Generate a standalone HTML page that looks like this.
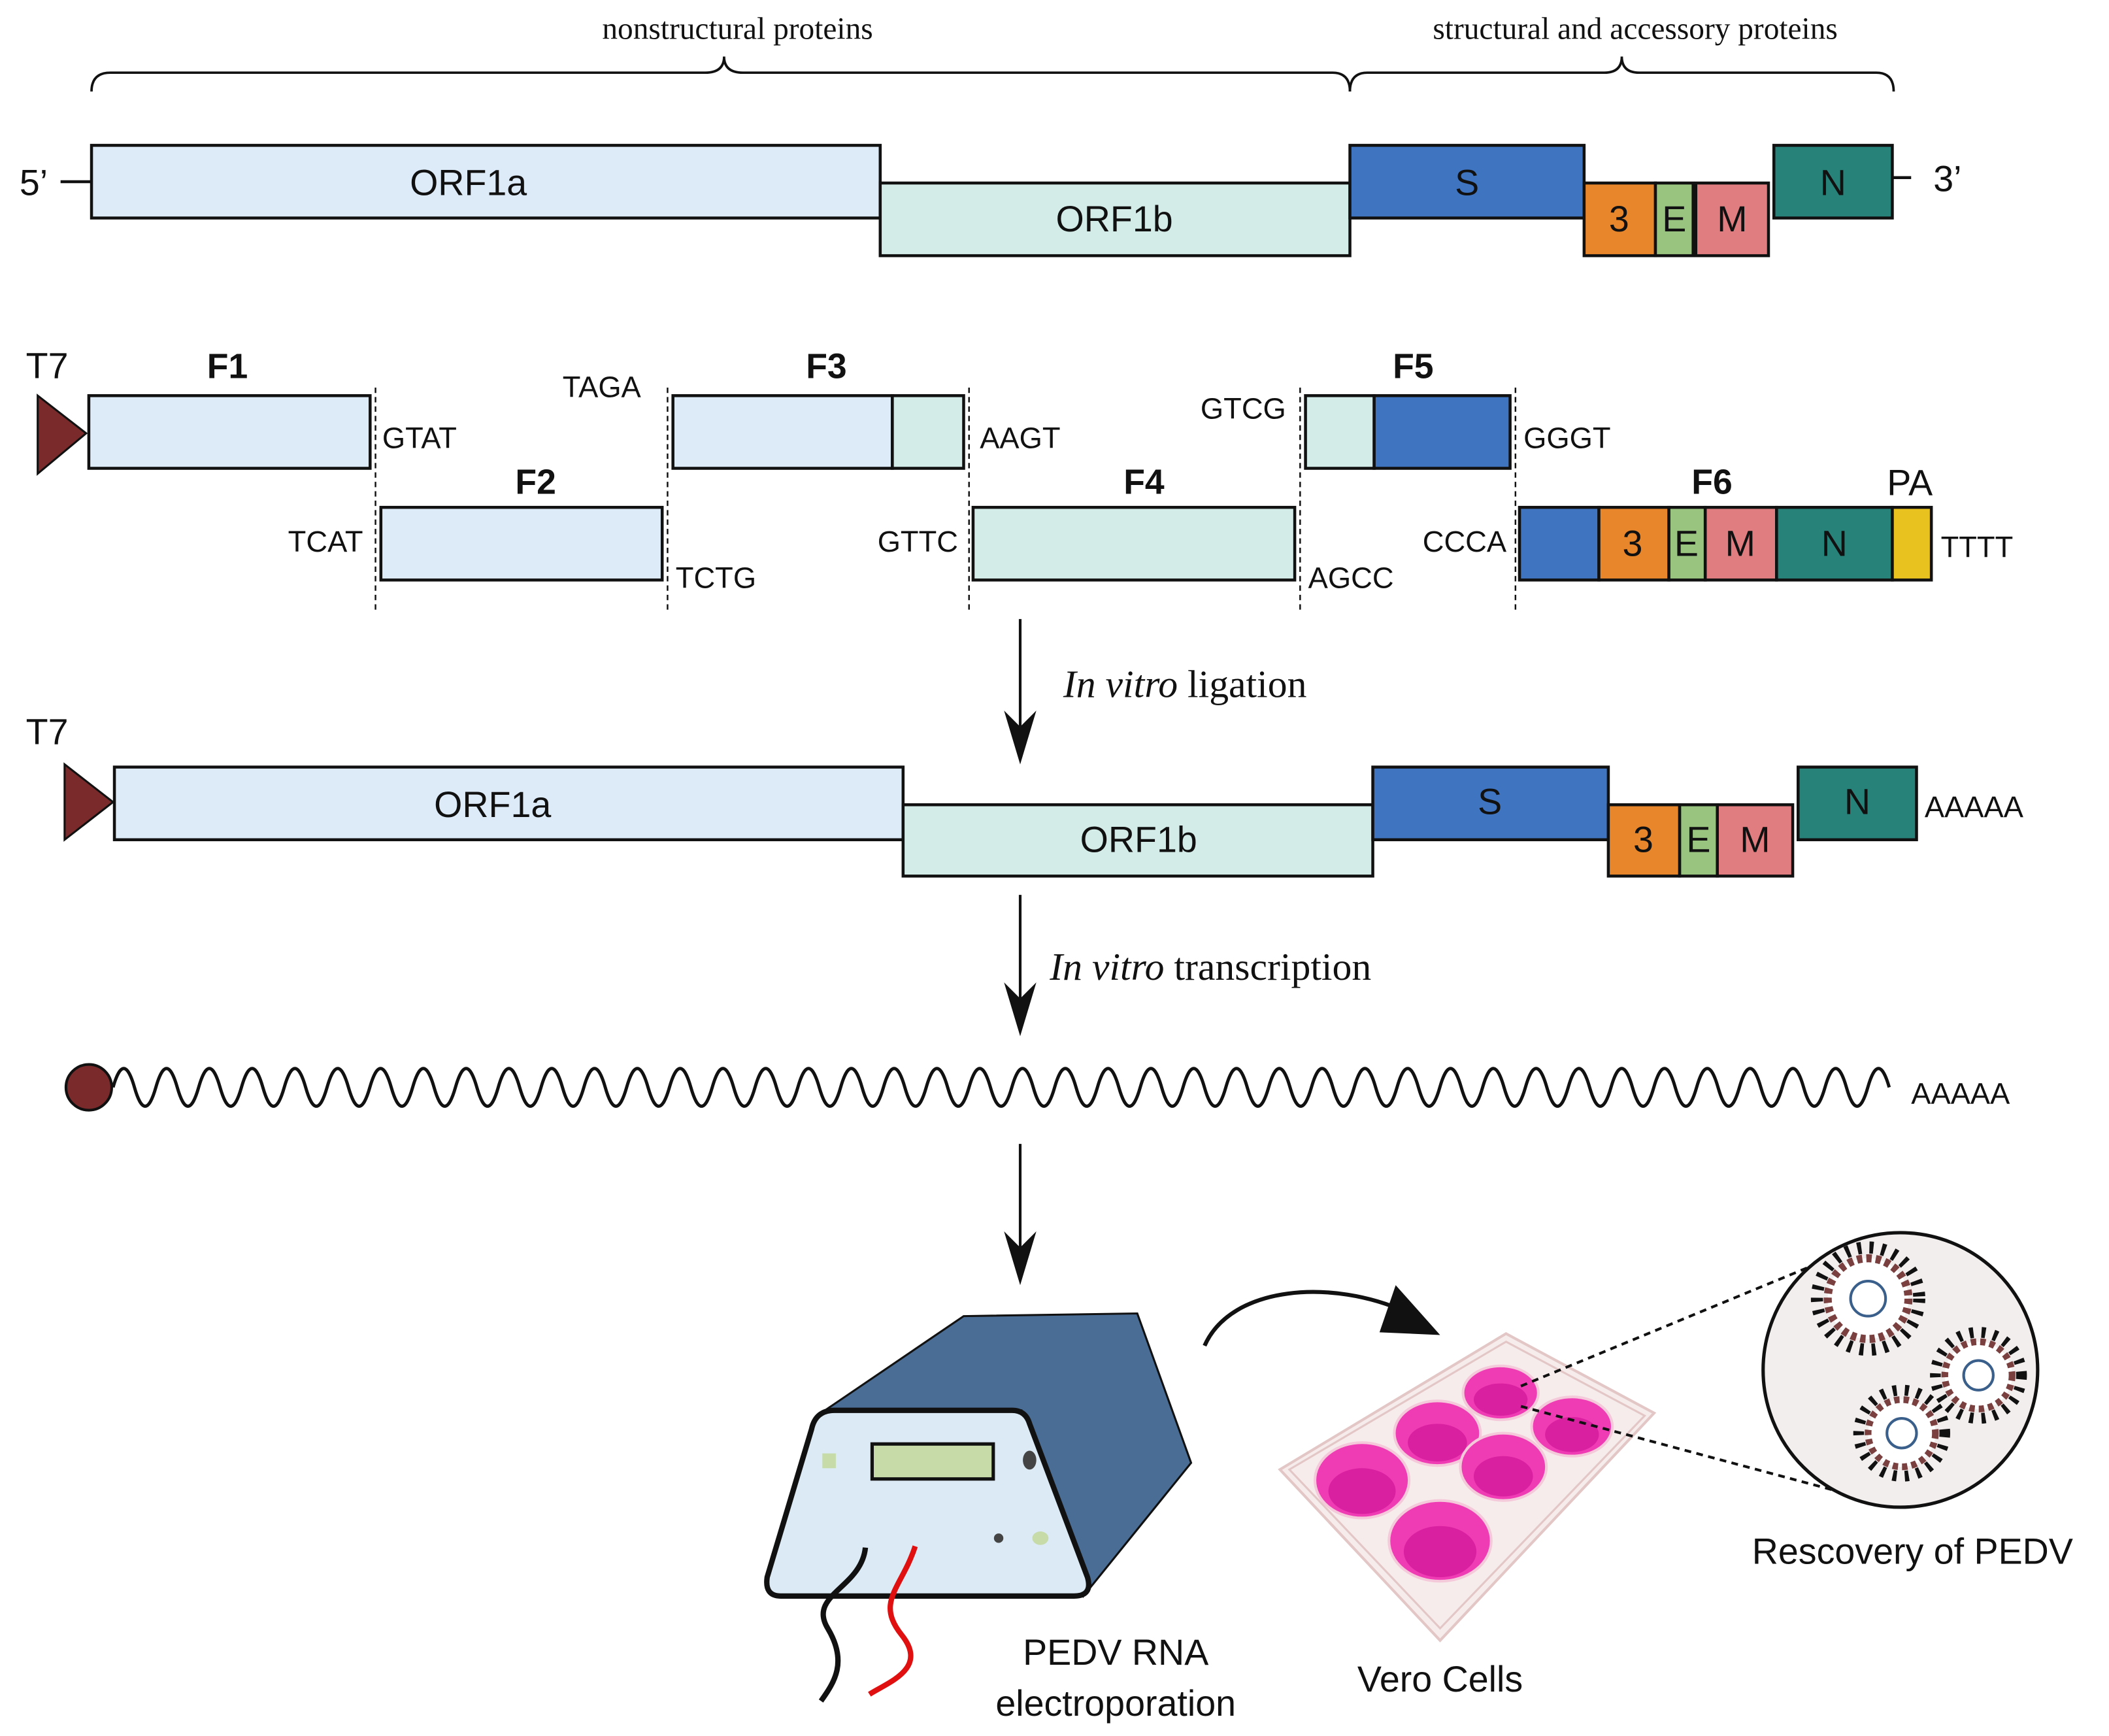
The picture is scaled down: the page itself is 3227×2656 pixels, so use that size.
<!DOCTYPE html>
<html><head><meta charset="utf-8"><style>
html,body{margin:0;padding:0;background:#fff;}
svg{display:block;}
.s{font-family:"Liberation Sans",sans-serif;}
.r{font-family:"Liberation Serif",serif;}
</style></head><body>
<svg width="3227" height="2656" viewBox="0 0 1567 1290" preserveAspectRatio="none" xmlns="http://www.w3.org/2000/svg">
<g stroke="#111" stroke-width="2.2">
<path d="M68,68 Q68,54 82,54 L524,54 Q538,54 538,42 Q538,54 552,54 L990,54 Q1003,54 1003,68" fill="none" stroke-width="1.8"/>
<path d="M1003,68 Q1003,54 1016,54 L1192,54 Q1205,54 1205,42 Q1205,54 1218,54 L1394,54 Q1407,54 1407,68" fill="none" stroke-width="1.8"/>
<line x1="45" y1="135" x2="68" y2="135"/>
<line x1="1406" y1="132" x2="1420" y2="132"/>
<rect x="68" y="108" width="586" height="54" fill="#ddeaf7"/>
<rect x="654" y="136" width="349" height="54" fill="#d3ece8"/>
<rect x="1003" y="108" width="174" height="54" fill="#3f74c0"/>
<rect x="1177" y="136" width="53" height="54" fill="#e8862b"/>
<rect x="1230" y="136" width="28" height="54" fill="#98c47f"/>
<rect x="1260" y="136" width="54" height="54" fill="#e07d80"/>
<rect x="1318" y="108" width="88" height="54" fill="#27827a"/>
<polygon points="28,294 28,352 64,322" fill="#7a2a2a" stroke="#111" stroke-width="1.5"/>
<rect x="66" y="294" width="209" height="54" fill="#ddeaf7"/>
<rect x="283" y="377" width="209" height="54" fill="#ddeaf7"/>
<rect x="500" y="294" width="163" height="54" fill="#ddeaf7"/>
<rect x="663" y="294" width="53" height="54" fill="#d3ece8"/>
<rect x="723" y="377" width="239" height="54" fill="#d3ece8"/>
<rect x="970" y="294" width="51" height="54" fill="#d3ece8"/>
<rect x="1021" y="294" width="101" height="54" fill="#3f74c0"/>
<rect x="1129" y="377" width="59" height="54" fill="#3f74c0"/>
<rect x="1188" y="377" width="52" height="54" fill="#e8862b"/>
<rect x="1240" y="377" width="27" height="54" fill="#98c47f"/>
<rect x="1267" y="377" width="53" height="54" fill="#e07d80"/>
<rect x="1320" y="377" width="86" height="54" fill="#27827a"/>
<rect x="1406" y="377" width="29" height="54" fill="#e8c21e"/>
<g stroke-dasharray="4,3" stroke-width="1.2">
<line x1="279" y1="288" x2="279" y2="456"/><line x1="496" y1="288" x2="496" y2="456"/>
<line x1="720" y1="288" x2="720" y2="456"/><line x1="966" y1="288" x2="966" y2="456"/>
<line x1="1126" y1="288" x2="1126" y2="456"/>
</g>
<polygon points="48,568 48,624 84,596" fill="#7a2a2a" stroke="#111" stroke-width="1.5"/>
<rect x="85" y="570" width="586" height="54" fill="#ddeaf7"/>
<rect x="671" y="598" width="349" height="53" fill="#d3ece8"/>
<rect x="1020" y="570" width="175" height="54" fill="#3f74c0"/>
<rect x="1195" y="598" width="53" height="53" fill="#e8862b"/>
<rect x="1248" y="598" width="28" height="53" fill="#98c47f"/>
<rect x="1276" y="598" width="56" height="53" fill="#e07d80"/>
<rect x="1336" y="570" width="88" height="54" fill="#27827a"/>
<line x1="758" y1="460" x2="758" y2="540" stroke-width="2"/>
<line x1="758" y1="665" x2="758" y2="742" stroke-width="2"/>
<line x1="758" y1="850" x2="758" y2="927" stroke-width="2"/>
</g>
<g fill="#111">
<path d="M746,528 L758,568 L770,528 L758,540Z"/>
<path d="M746,730 L758,770 L770,730 L758,742Z"/>
<path d="M746,915 L758,955 L770,915 L758,927Z"/>
</g>
<path d="M84,808 q7.95,-28 15.9,0 t15.9,0 t15.9,0 t15.9,0 t15.9,0 t15.9,0 t15.9,0 t15.9,0 t15.9,0 t15.9,0 t15.9,0 t15.9,0 t15.9,0 t15.9,0 t15.9,0 t15.9,0 t15.9,0 t15.9,0 t15.9,0 t15.9,0 t15.9,0 t15.9,0 t15.9,0 t15.9,0 t15.9,0 t15.9,0 t15.9,0 t15.9,0 t15.9,0 t15.9,0 t15.9,0 t15.9,0 t15.9,0 t15.9,0 t15.9,0 t15.9,0 t15.9,0 t15.9,0 t15.9,0 t15.9,0 t15.9,0 t15.9,0 t15.9,0 t15.9,0 t15.9,0 t15.9,0 t15.9,0 t15.9,0 t15.9,0 t15.9,0 t15.9,0 t15.9,0 t15.9,0 t15.9,0 t15.9,0 t15.9,0 t15.9,0 t15.9,0 t15.9,0 t15.9,0 t15.9,0 t15.9,0 t15.9,0 t15.9,0 t15.9,0 t15.9,0 t15.9,0 t15.9,0 t15.9,0 t15.9,0 t15.9,0 t15.9,0 t15.9,0 t15.9,0 t15.9,0 t15.9,0 t15.9,0 t15.9,0 t15.9,0 t15.9,0 t15.9,0 t15.9,0 t15.9,0" fill="none" stroke="#111" stroke-width="2.4"/>
<circle cx="66" cy="808" r="17" fill="#7a2a2a" stroke="#111" stroke-width="2"/>
<polygon points="613,1048 716,978 845,976 885,1087 805,1186 759,1048" fill="#4a6d96" stroke="#111" stroke-width="1.5"/>
<path d="M620,1048 L752,1048 Q762,1048 765,1058 L808,1172 Q812,1186 798,1186 L580,1186 Q568,1186 570,1172 L603,1062 Q606,1048 620,1048Z" fill="#dbeaf4" stroke="#111" stroke-width="4"/>
<rect x="648" y="1073" width="90" height="26" fill="#c6dba8" stroke="#111" stroke-width="2.5"/>
<rect x="611" y="1080" width="10" height="11" fill="#c6dba8"/>
<ellipse cx="765" cy="1085" rx="5" ry="7" fill="#444"/>
<circle cx="742" cy="1143" r="3.5" fill="#444"/>
<ellipse cx="773" cy="1143" rx="6" ry="5" fill="#c6dba8"/>
<path d="M643,1150 C640,1180 600,1185 615,1210 C630,1235 620,1250 610,1264" fill="none" stroke="#111" stroke-width="4"/>
<path d="M680,1149 C670,1180 650,1190 670,1215 C690,1240 660,1250 646,1259" fill="none" stroke="#e01010" stroke-width="4"/>
<path d="M895,1000 C915,955 990,950 1045,975" fill="none" stroke="#111" stroke-width="3"/>
<polygon points="1037,955 1070,992 1025,990" fill="#111"/>
<polygon points="1119,991 1229,1050 1070,1219 951,1092" fill="#f7ecec" stroke="#e3c6c6" stroke-width="2"/>
<polygon points="1119,997 1222,1052 1070,1210 958,1092" fill="none" stroke="#e3c6c6" stroke-width="1.5"/>
<g fill="#f03cb4" stroke="#f4c9d9" stroke-width="2">
<ellipse cx="1115" cy="1035" rx="28" ry="20"/>
<ellipse cx="1068" cy="1065" rx="32" ry="24"/>
<ellipse cx="1168" cy="1060" rx="30" ry="22"/>
<ellipse cx="1012" cy="1100" rx="35" ry="28"/>
<ellipse cx="1117" cy="1090" rx="32" ry="25"/>
<ellipse cx="1070" cy="1145" rx="38" ry="30"/>
</g>
<g fill="#d920a0">
<ellipse cx="1115" cy="1040" rx="20" ry="12"/><ellipse cx="1068" cy="1072" rx="22" ry="14"/>
<ellipse cx="1168" cy="1066" rx="20" ry="13"/><ellipse cx="1012" cy="1108" rx="25" ry="17"/>
<ellipse cx="1117" cy="1097" rx="22" ry="15"/><ellipse cx="1070" cy="1153" rx="27" ry="19"/>
</g>
<g stroke="#111" stroke-width="2" stroke-dasharray="5,4">
<line x1="1130" y1="1030" x2="1360" y2="935"/><line x1="1130" y1="1045" x2="1365" y2="1108"/>
</g>
<ellipse cx="1412" cy="1018" rx="102" ry="102" fill="#f3eeee" stroke="#111" stroke-width="2.5"/>
<g>
<circle cx="1388" cy="965" r="38" fill="none" stroke="#111" stroke-width="9" stroke-dasharray="3,6"/>
<circle cx="1388" cy="965" r="30" fill="#fff" stroke="#7a4040" stroke-width="6" stroke-dasharray="4,3"/>
<circle cx="1388" cy="965" r="13" fill="none" stroke="#3a5f8a" stroke-width="2"/>
<circle cx="1470" cy="1022" r="32" fill="none" stroke="#111" stroke-width="8" stroke-dasharray="3,6"/>
<circle cx="1470" cy="1022" r="25" fill="#fff" stroke="#7a4040" stroke-width="5" stroke-dasharray="4,3"/>
<circle cx="1470" cy="1022" r="11" fill="none" stroke="#3a5f8a" stroke-width="2"/>
<circle cx="1413" cy="1065" r="32" fill="none" stroke="#111" stroke-width="8" stroke-dasharray="3,6"/>
<circle cx="1413" cy="1065" r="25" fill="#fff" stroke="#7a4040" stroke-width="5" stroke-dasharray="4,3"/>
<circle cx="1413" cy="1065" r="11" fill="none" stroke="#3a5f8a" stroke-width="2"/>
</g>
<g class="r" font-size="23" fill="#111" text-anchor="middle">
<text x="548" y="29">nonstructural proteins</text>
<text x="1215" y="29">structural and accessory proteins</text>
</g>
<g class="s" fill="#111" font-size="27" text-anchor="middle">
<text x="25" y="145">5’</text><text x="1447" y="142">3’</text>
<text x="348" y="145">ORF1a</text><text x="828" y="172">ORF1b</text>
<text x="1090" y="145">S</text><text x="1203" y="172">3</text><text x="1244" y="172">E</text><text x="1287" y="172">M</text><text x="1362" y="145">N</text>
<text x="35" y="281">T7</text><text x="35" y="553">T7</text>
<text x="1213" y="413">3</text><text x="1253" y="413">E</text><text x="1293" y="413">M</text><text x="1363" y="413">N</text><text x="1419" y="368">PA</text>
<text x="366" y="607">ORF1a</text><text x="846" y="633">ORF1b</text>
<text x="1107" y="605">S</text><text x="1221" y="633">3</text><text x="1262" y="633">E</text><text x="1304" y="633">M</text><text x="1380" y="605">N</text>
<text x="829" y="1237">PEDV RNA</text><text x="829" y="1275">electroporation</text>
<text x="1070" y="1257">Vero Cells</text>
<text x="1421" y="1162">Rescovery of PEDV</text>
</g>
<g class="s" fill="#111" font-size="26" font-weight="bold" text-anchor="middle">
<text x="169" y="281">F1</text><text x="398" y="367">F2</text><text x="614" y="281">F3</text>
<text x="850" y="367">F4</text><text x="1050" y="281">F5</text><text x="1272" y="367">F6</text>
</g>
<g class="s" fill="#111" font-size="22">
<text x="284" y="333">GTAT</text><text x="214" y="410">TCAT</text><text x="502" y="437">TCTG</text>
<text x="418" y="295">TAGA</text><text x="728" y="333">AAGT</text><text x="652" y="410">GTTC</text>
<text x="972" y="437">AGCC</text><text x="892" y="311">GTCG</text><text x="1132" y="333">GGGT</text>
<text x="1057" y="410">CCCA</text><text x="1442" y="414">TTTT</text>
<text x="1430" y="607">AAAAA</text><text x="1420" y="820">AAAAA</text>
</g>
<g class="r" fill="#111" font-size="29">
<text x="790" y="518"><tspan font-style="italic">In vitro</tspan> ligation</text>
<text x="780" y="728"><tspan font-style="italic">In vitro</tspan> transcription</text>
</g>
</svg>
</body></html>
